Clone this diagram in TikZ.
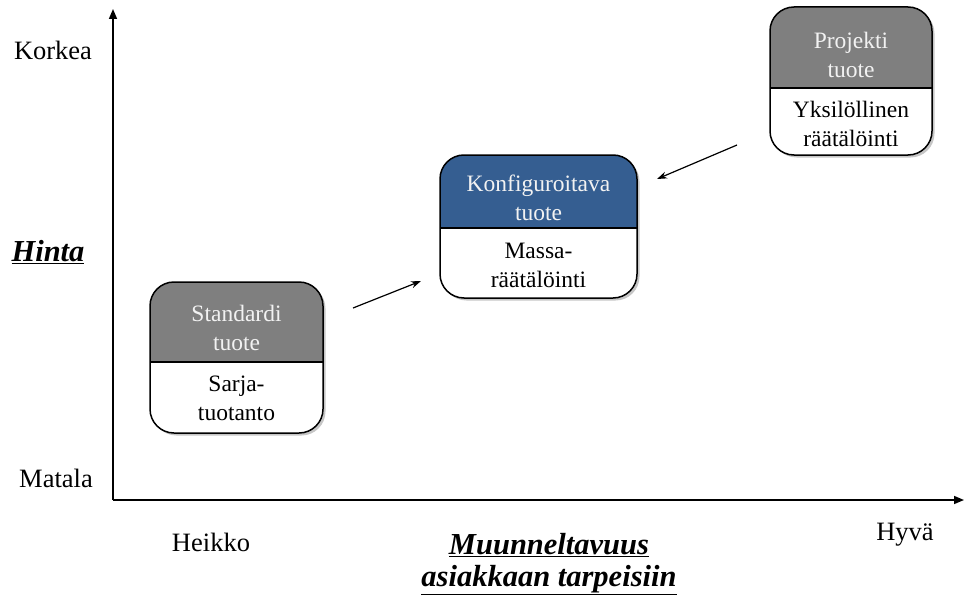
\documentclass[tikz,border=0pt]{standalone}
\usepackage{fontspec}
\setmainfont{Liberation Serif}
\usetikzlibrary{shadows,arrows.meta}
\definecolor{hdgray}{HTML}{7F7F7F}
\definecolor{hdblue}{HTML}{355E91}
\definecolor{hdtext}{HTML}{F2F2F2}
\tikzset{
  pbox/.style n args={4}{draw=black, line width=1.5pt, fill=white, rounded corners=24pt,
    minimum width=#1, minimum height=#2, inner sep=0pt,
    drop shadow={shadow xshift=2.5pt, shadow yshift=-2.5pt, opacity=0.45},
    path picture={
      \fill[#4, sharp corners] (path picture bounding box.north west) rectangle ([yshift=-#3]path picture bounding box.north east);
      \draw[line width=1.5pt, sharp corners] ([yshift=-#3]path picture bounding box.north west) -- ([yshift=-#3]path picture bounding box.north east);
    }},
  hdtxt/.style={text=hdtext, align=center, font=\fontsize{23.5}{29}\selectfont, inner sep=0pt},
  bdtxt/.style={text=black, align=center, font=\fontsize{23.5}{29}\selectfont, inner sep=0pt},
  lbl/.style={font=\fontsize{26.5}{30}\selectfont, inner sep=0pt},
  ttl/.style={font=\fontsize{30.5}{32}\selectfont\bfseries\itshape, inner sep=0pt, align=center},
  axis/.style={line width=1.5pt, -{Triangle[length=10pt,width=8pt]}},
  flow/.style={line width=1.2pt, -{Stealth[length=10pt,width=7pt]}}
}
\begin{document}
\begin{tikzpicture}[x=1pt,y=-1pt]
\useasboundingbox (0,0) rectangle (965,599);
% axes
\coordinate (o) at (113,500);
\coordinate (ytop) at (113,9);
\coordinate (xend) at (964,500);
\draw[axis] (o) -- (ytop);
\draw[axis] (o) -- (xend);
% axis labels
\node[lbl] (korkea) at (53,50) {Korkea};
\node[lbl] (matala) at (56,478) {Matala};
\node[lbl] (heikko) at (211,542) {Heikko};
\node[lbl] (hyva) at (905,535) {Hyvä};
\node[ttl] (hinta) at (48,252) {\underline{Hinta}};
\node[ttl] (muun) at (549,564) {\underline{Muunneltavuus}\\\underline{asiakkaan tarpeisiin}};
% boxes
\node[pbox={173pt}{151pt}{80pt}{hdgray}] (b1) at (236.5,357.5) {};
\node[pbox={197pt}{143pt}{73pt}{hdblue}] (b2) at (538.5,226.5) {};
\node[pbox={162pt}{148pt}{81pt}{hdgray}] (b3) at (851,81) {};
% box texts
\node[hdtxt] (h1) at (236.5,328) {Standardi\\tuote};
\node[bdtxt] (t1) at (236.5,398) {Sarja-\\tuotanto};
\node[hdtxt] (h2) at (538.5,198) {Konfiguroitava\\tuote};
\node[bdtxt] (t2) at (538.5,265) {Massa-\\räätälöinti};
\node[hdtxt] (h3) at (851,55) {Projekti\\tuote};
\node[bdtxt] (t3) at (851,124) {Yksilöllinen\\räätälöinti};
% arrows
\coordinate (a1s) at (353,308);
\coordinate (a1e) at (421,281);
\coordinate (a2s) at (737,145);
\coordinate (a2e) at (657,179);
\draw[flow] (a1s) -- (a1e);
\draw[flow] (a2s) -- (a2e);
\end{tikzpicture}
\end{document}
